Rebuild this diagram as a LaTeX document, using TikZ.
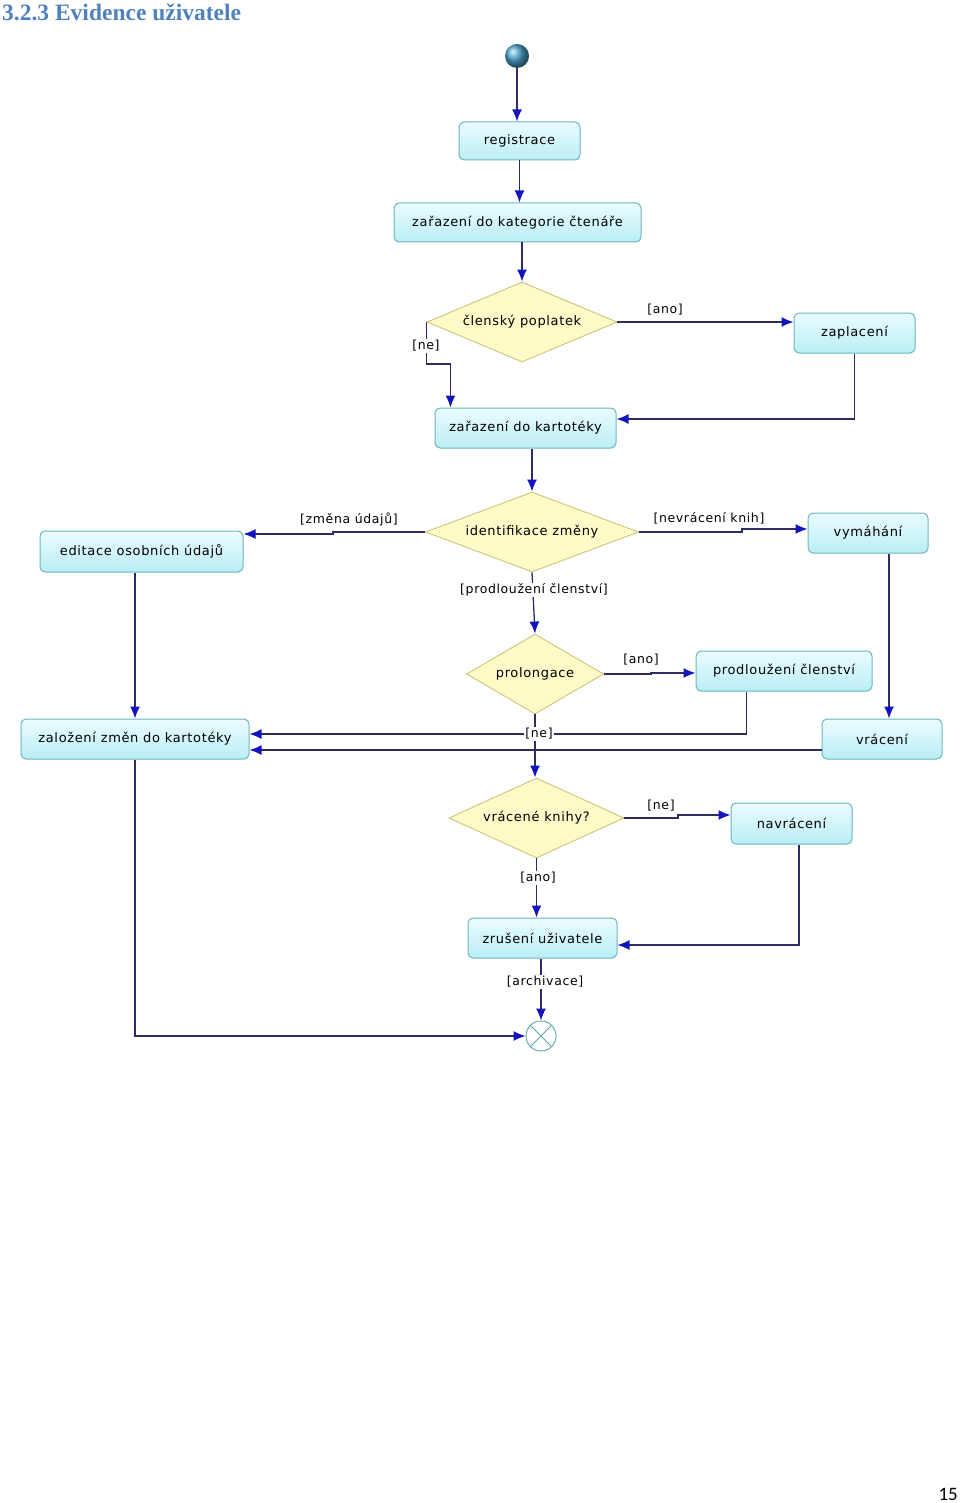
\documentclass[tikz,border=0pt]{standalone}
\usepackage{fontspec}
\setmainfont{DejaVu Sans}
\newfontfamily\boxfont[LetterSpace=5]{DejaVu Sans}
\newfontfamily\titlefont{Liberation Serif}
\newfontfamily\numfont{Carlito}
\usetikzlibrary{shapes.geometric,arrows.meta,calc}
\definecolor{boxline}{RGB}{110,180,190}
\definecolor{boxtop}{RGB}{235,252,255}
\definecolor{boxbot}{RGB}{185,238,245}
\definecolor{dfill}{RGB}{255,250,200}
\definecolor{dline}{RGB}{205,195,120}
\definecolor{lineclr}{RGB}{45,45,100}
\definecolor{tipclr}{RGB}{20,20,190}
\definecolor{titleblue}{RGB}{79,129,189}
\definecolor{ballclr}{RGB}{75,165,205}
\definecolor{endclr}{RGB}{90,167,172}
\begin{document}
\begin{tikzpicture}[x=1pt,y=-1pt,
  actbox/.style={draw=boxline, rounded corners=5pt, top color=boxtop, bottom color=boxbot,
    line width=1pt, inner sep=0pt, font=\boxfont\fontsize{13}{15}\selectfont, text=black},
  decis/.style={diamond, draw=dline, fill=dfill, line width=0.9pt, inner sep=0pt,
    font=\boxfont\fontsize{13}{15}\selectfont, text=black},
  flow/.style={draw=lineclr, line width=1.3pt, -{Latex[length=12pt,width=10pt,color=tipclr]}},
  glabel/.style={font=\boxfont\fontsize{12.5}{14}\selectfont, inner sep=1pt, fill=white, text=black},
]
\useasboundingbox (0,0) rectangle (960,1503);

\node[anchor=base west, font=\titlefont\bfseries\fontsize{23.5}{28}\selectfont, text=titleblue, inner sep=0pt] (title) at (2,21) {3.2.3 Evidence uživatele};
\node[anchor=base east, font=\numfont\fontsize{19}{22}\selectfont, inner sep=0pt] (pg) at (958,1500) {15};

% start and end
\node[circle, minimum size=24pt, inner sep=0pt, shading=ball, ball color=ballclr] (start) at (517,56) {};
\node[circle, minimum size=30pt, inner sep=0pt, draw=endclr, fill=white, line width=0.9pt] (end) at (541,1036) {};
\draw[endclr, line width=0.9pt] (end.45) -- (end.225) (end.135) -- (end.315);

% actions
\node[actbox, minimum width=121pt, minimum height=38pt] (reg) at (519.5,141) {registrace};
\node[actbox, minimum width=247pt, minimum height=39pt] (kat) at (517.5,222.5) {zařazení do kategorie čtenáře};
\node[actbox, minimum width=121pt, minimum height=40pt] (zap) at (854.5,333) {zaplacení};
\node[actbox, minimum width=181pt, minimum height=40pt] (kart) at (525.5,428) {zařazení do kartotéky};
\node[actbox, minimum width=203pt, minimum height=41pt] (edit) at (141.5,551.5) {editace osobních údajů};
\node[actbox, minimum width=120pt, minimum height=40pt] (vym) at (868,533) {vymáhání};
\node[actbox, minimum width=176pt, minimum height=40pt] (prod) at (784,671) {prodloužení členství};
\node[actbox, minimum width=120pt, minimum height=40pt] (vrac) at (882,739) {vrácení};
\node[actbox, minimum width=228pt, minimum height=40pt] (zal) at (135,739) {založení změn do kartotéky};
\node[actbox, minimum width=121pt, minimum height=41pt] (navr) at (791.5,823.5) {navrácení};
\node[actbox, minimum width=149pt, minimum height=40pt] (zrus) at (542.5,938) {zrušení uživatele};

% decisions
\node[decis, aspect=2.375, minimum width=190pt, minimum height=80pt] (clen) at (522,322) {členský poplatek};
\node[decis, aspect=2.66, minimum width=213pt, minimum height=80pt] (ident) at (532,532) {identifikace změny};
\node[decis, aspect=1.71, minimum width=137pt, minimum height=80pt] (prol) at (535,674) {prolongace};
\node[decis, aspect=2.19, minimum width=175pt, minimum height=80pt] (vk) at (536.5,818) {vrácené knihy?};

% flows
\draw[flow] (start.south) -- (start.south |- reg.north);
\draw[flow] (reg.south) -- (reg.south |- kat.north);
\draw[flow] (clen.north |- kat.south) -- (clen.north);
\draw[flow] (clen.east) -- (clen.east -| zap.west);
\node[glabel] (lano1) at (665,310) {[ano]};
\draw[flow] (clen.west) -- ++(0,42) -| ($(kart.north west)+(16,0)$);
\node[glabel] (lne1) at (426,346) {[ne]};
\draw[flow] (zap.south) |- ($(kart.east)+(0,-9)$);
\draw[flow] (ident.north |- kart.south) -- (ident.north);

\draw[flow] (ident.west) -- (333,532) -- (333,534) -- (edit.east |- 0,534);
\node[glabel] (lzm) at (349,519) {[změna údajů]};
\draw[flow] (ident.east) -- (742,532) -- (742,529) -- (vym.west |- 0,529);
\node[glabel] (lnev) at (709,518) {[nevrácení knih]};
\draw[flow] (ident.south) -- (prol.north);
\node[glabel] (lprod) at (534,590) {[prodloužení členství]};

\draw[flow] (prol.east) -- (651,674) -- (651,673) -- (prod.west |- 0,673);
\node[glabel] (lano2) at (641,660) {[ano]};
\draw[flow] ($(prod.south west)+(51,0)$) |- (zal.east |- 0,734);
\draw[flow] ($(vym.south)+(21,0)$) -- ($(vrac.north)+(7,0)$);
\draw[flow] ($(vrac.west)+(0,11)$) -- (zal.east |- 0,750);
\draw[flow] (prol.south) -- (prol.south |- vk.north);
\node[glabel] (lne2) at (539,734) {[ne]};
\draw[flow] (edit.south -| zal.north) -- (zal.north);

\draw[flow] (vk.east) -- (678,818) -- (678,815) -- (navr.west |- 0,815);
\node[glabel] (lne3) at (661,806) {[ne]};
\draw[flow] ($(navr.south)+(7.5,0)$) |- (zrus.east |- 0,945);
\draw[flow] (vk.south) -- (vk.south |- zrus.north);
\node[glabel] (lano3) at (538,878) {[ano]};
\draw[flow] (end.north |- zrus.south) -- (end.north);
\node[glabel] (larch) at (545,982) {[archivace]};
\draw[flow] (zal.south) |- (end.west);
\end{tikzpicture}
\end{document}
